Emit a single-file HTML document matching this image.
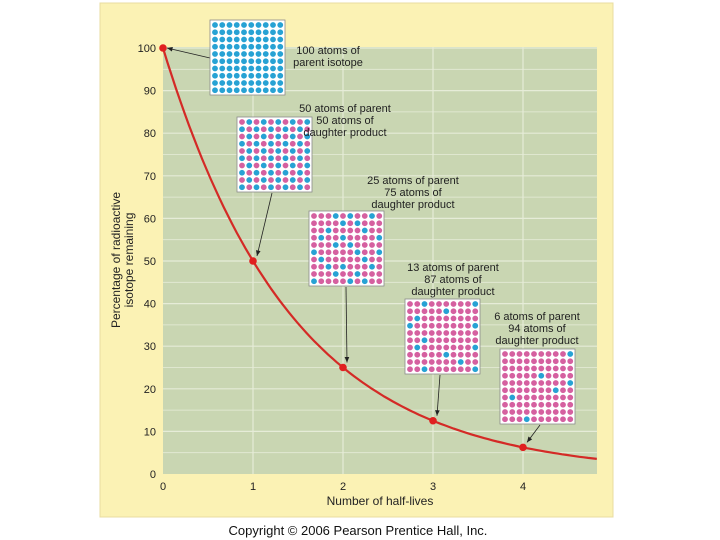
<!DOCTYPE html>
<html><head><meta charset="utf-8"><style>
body{margin:0;background:#fff;width:720px;height:540px;overflow:hidden}
svg{display:block;font-family:"Liberation Sans",sans-serif}
</style></head><body>
<svg id="chart" width="720" height="540">
<rect x="100" y="3" width="513" height="514" fill="#fbf2b4" stroke="#e8dca0"/>
<rect x="163" y="47" width="434" height="427" fill="#c9d6b2"/>
<g id="grid"></g><g id="axes"></g><g id="arrows"></g><g id="boxes"></g><g id="curve"></g>
<text x="358" y="535" text-anchor="middle" font-size="13" fill="#111">Copyright © 2006 Pearson Prentice Hall, Inc.</text>
<text x="380" y="505" text-anchor="middle" font-size="12" fill="#222">Number of half-lives</text>
<text transform="translate(120,260) rotate(-90)" text-anchor="middle" font-size="12" fill="#222"><tspan x="0" y="0">Percentage of radioactive</tspan><tspan x="0" y="13">isotope remaining</tspan></text>
</svg>
<script>
const halfLives=[0,1,2,3,4];
const percentRemaining=[100,50,25,12.5,6.25];
const yTicks=[0,10,20,30,40,50,60,70,80,90,100];
const xTicks=[0,1,2,3,4];
const parentCounts=[100,50,25,13,6];
const labels=[["100 atoms of","parent isotope"],["50 atoms of parent","50 atoms of","daughter product"],["25 atoms of parent","75 atoms of","daughter product"],["13 atoms of parent","87 atoms of","daughter product"],["6 atoms of parent","94 atoms of","daughter product"]];
const blue25=[3,5,8,14,16,22,27,31,34,39,43,45,50,56,59,61,67,72,74,78,83,86,90,95,97];
const blue13=[2,9,15,21,30,39,52,61,69,75,87,92,99];
const blue6=[9,35,49,57,61,93];
const NS="http://www.w3.org/2000/svg";
const X=v=>163+v*90, Y=v=>474-v*4.26;
function mk(t,a,p){const e=document.createElementNS(NS,t);for(const k in a)e.setAttribute(k,a[k]);document.getElementById(p).appendChild(e);return e;}
for(let v=5;v<=100;v+=5){const l=mk('line',{x1:163,x2:597,y1:Y(v),y2:Y(v),stroke:'#e6ecd8','stroke-width':v%10?0.8:1.2},'grid');

}
for(let v=1;v<=4;v++){const l=mk('line',{x1:X(v),x2:X(v),y1:47,y2:474,stroke:'#e6ecd8','stroke-width':1.2},'grid');

}
yTicks.forEach(v=>{const t=mk('text',{x:156,y:Y(v)+4,'text-anchor':'end','font-size':11,fill:'#222'},'axes');t.textContent=v;

});
xTicks.forEach(v=>{const t=mk('text',{x:X(v),y:490,'text-anchor':'middle','font-size':11,fill:'#222'},'axes');t.textContent=v;

});
let d='';for(let i=0;i<=100;i++){const x=i/100*4.82;d+=(i?'L':'M')+X(x).toFixed(1)+','+Y(100*Math.pow(0.5,x)).toFixed(1);}
const c=mk('path',{d:d,fill:'none',stroke:'#d42a26','stroke-width':2.2},'curve');


halfLives.forEach((h,i)=>{const p=mk('circle',{cx:X(h),cy:Y(percentRemaining[i]),r:3.8,fill:'#e02020'},'curve');

});
const boxPos=[[210,20],[237,117],[309,211],[405,299],[500,349]];
const labelPos=[[328,54],[345,112],[413,184],[453,271],[537,320]];
const arrowStart=[[210,58],[272,193],[346,287],[440,375],[540,425]];
for(let i=0;i<5;i++){
 const b=boxPos[i];
 const r=mk('rect',{x:b[0],y:b[1],width:75,height:75,fill:'#fff',stroke:'#8a8a8a','stroke-width':0.8},'boxes');
 
 
 const n=parentCounts[i];const blue=new Set();
 if(n===100){for(let j=0;j<100;j++)blue.add(j);}
 else if(n===50){for(let j=0;j<100;j++){if((j+Math.floor(j/10))%2===1)blue.add(j);}}
 else if(n===25){blue25.forEach(j=>blue.add(j));}
 else if(n===13){blue13.forEach(j=>blue.add(j));}
 else {blue6.forEach(j=>blue.add(j));}
 for(let j=0;j<100;j++){const cx=b[0]+5+(j%10)*7.25,cy=b[1]+5+Math.floor(j/10)*7.25;
  mk('circle',{cx:cx,cy:cy,r:2.9,fill:blue.has(j)?'#27a2d4':'#d560a0'},'boxes');}
 const t=mk('text',{'text-anchor':'middle','font-size':11,fill:'#222'},'boxes');
 
 
 for(let li=0;li<labels[i].length;li++){const ts=document.createElementNS(NS,'tspan');ts.setAttribute('x',labelPos[i][0]);ts.setAttribute('y',labelPos[i][1]+li*12);ts.textContent=labels[i][li];t.appendChild(ts);}
 const ex=X(halfLives[i])+4,ey=Y(percentRemaining[i])-(i?5:0);
 const a=mk('line',{x1:arrowStart[i][0],y1:arrowStart[i][1],x2:ex,y2:ey,stroke:'#222','stroke-width':0.8},'arrows');
 
 
 const ang=Math.atan2(ey-arrowStart[i][1],ex-arrowStart[i][0]);
 const p1=[ex-6*Math.cos(ang-0.4),ey-6*Math.sin(ang-0.4)],p2=[ex-6*Math.cos(ang+0.4),ey-6*Math.sin(ang+0.4)];
 mk('polygon',{points:ex+','+ey+' '+p1.join(',')+' '+p2.join(','),fill:'#222'},'arrows');
}
</script>
</body></html>
